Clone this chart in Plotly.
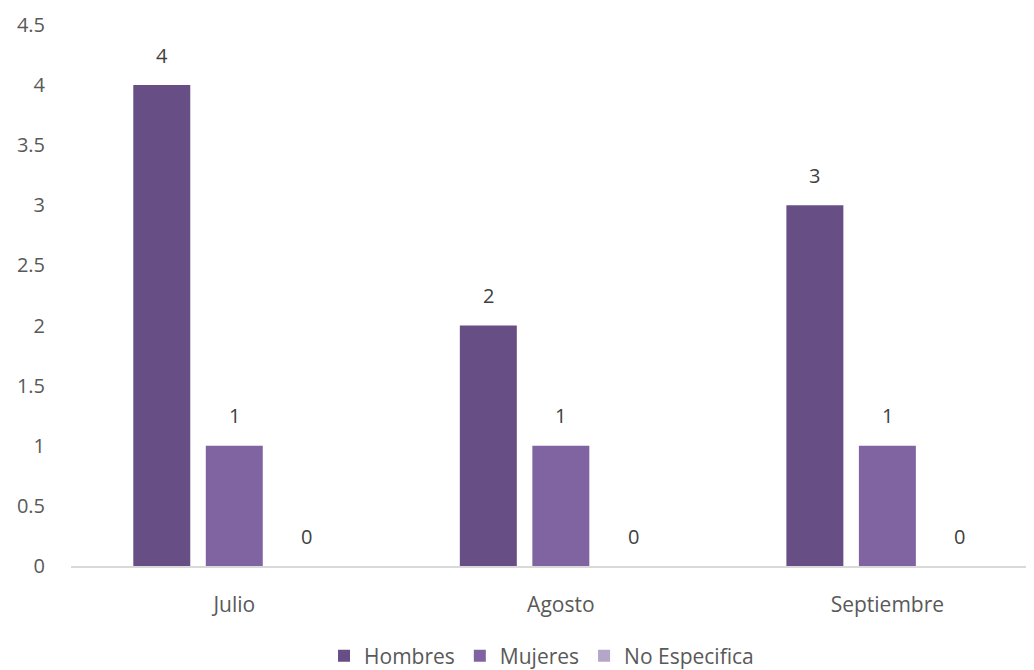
import plotly.graph_objects as go

meses = ["Julio", "Agosto", "Septiembre"]
hombres = [4, 2, 3]
mujeres = [1, 1, 1]
no_especifica = [0, 0, 0]
y_ticks = [0, 0.5, 1, 1.5, 2, 2.5, 3, 3.5, 4, 4.5]
y_tick_labels = ["0", "0.5", "1", "1.5", "2", "2.5", "3", "3.5", "4", "4.5"]

series = [
    ("Hombres", hombres, "#674F85"),
    ("Mujeres", mujeres, "#8064A2"),
    ("No Especifica", no_especifica, "#B5A6C9"),
]

FONT = "'Open Sans', 'Noto Sans', sans-serif"
BARGAP = 0.334
BARGROUPGAP = 0.214

fig = go.Figure()
n = len(series)
slot = (1 - BARGAP) / n
annotations = []
for j, (name, vals, color) in enumerate(series):
    fig.add_trace(go.Bar(
        x=meses, y=vals, name=name,
        marker=dict(color=color, line=dict(width=0)),
        hoverinfo="x+y+name",
    ))
    off = (j - (n - 1) / 2) * slot
    for i, v in enumerate(vals):
        annotations.append(dict(
            x=i + off, y=v, xref="x", yref="y", text=str(v), showarrow=False,
            yanchor="middle", yshift=30,
            font=dict(color="#404040", size=20, family=FONT),
        ))

fig.update_layout(
    width=1026, height=662,
    margin=dict(l=63, r=0, t=17, b=104, autoexpand=False),
    paper_bgcolor="white", plot_bgcolor="white",
    barmode="group", bargap=BARGAP, bargroupgap=BARGROUPGAP,
    font=dict(family=FONT, color="#595959", size=20),
    showlegend=True,
    legend=dict(orientation="h", xref="container", yref="container",
                x=0.52, xanchor="center", y=14 / 662, yanchor="middle",
                font=dict(size=21, color="#595959"), traceorder="normal",
                itemwidth=30),
    annotations=annotations,
)
fig.update_xaxes(
    range=[-0.5, 2.449], showgrid=False, showline=True, linecolor="#D9D9D9",
    linewidth=1.5, ticks="", ticklabelstandoff=19, fixedrange=True,
    tickfont=dict(size=21, color="#595959"),
)
fig.update_yaxes(
    range=[0, 4.5], tickvals=y_ticks, ticktext=y_tick_labels, showgrid=False,
    zeroline=False, showline=False, ticks="", ticklabelstandoff=25,
    tickfont=dict(size=20, color="#595959"), fixedrange=True,
)

fig.write_html("out.html")
